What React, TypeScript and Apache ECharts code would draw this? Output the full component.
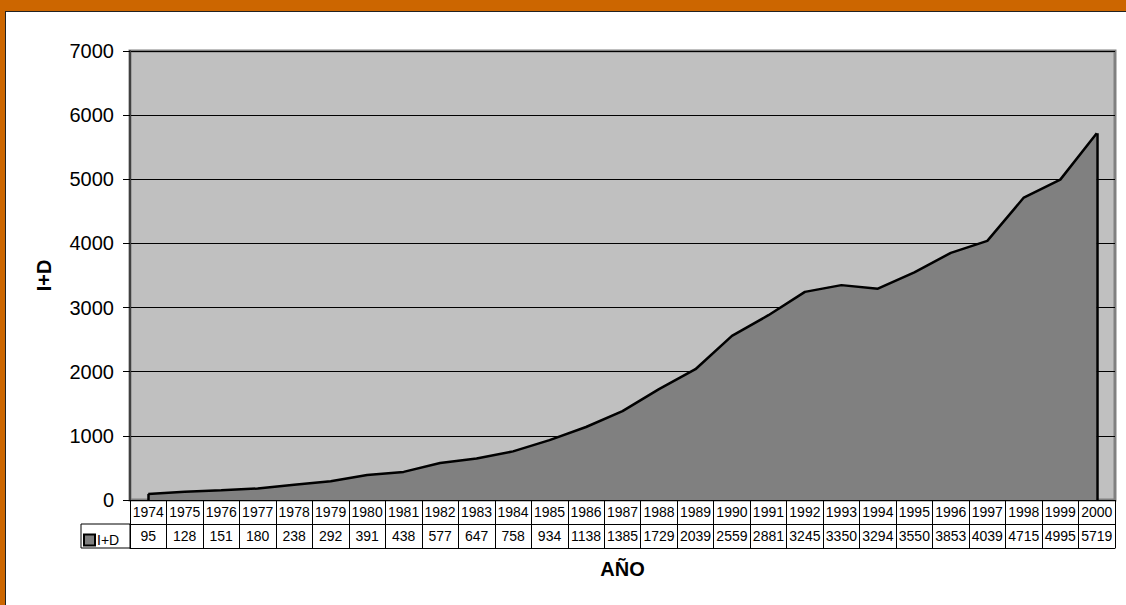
import React, { useEffect, useRef } from "react";
import * as echarts from "echarts";

const years = ["1974","1975","1976","1977","1978","1979","1980","1981","1982","1983","1984","1985","1986","1987","1988","1989","1990","1991","1992","1993","1994","1995","1996","1997","1998","1999","2000"];
const values = [95,128,151,180,238,292,391,438,577,647,758,934,1138,1385,1729,2039,2559,2881,3245,3350,3294,3550,3853,4039,4715,4995,5719];
const seriesName = "I+D";
const yTitle = "I+D";
const xTitle = "AÑO";

export default function App() {
  const ref = useRef<HTMLDivElement>(null);
  useEffect(() => {
    document.body.style.margin = "0";
    const chart = echarts.init(ref.current!, null, { renderer: "svg" });
    const font = "Arial, 'Liberation Sans', sans-serif";
    const last = years.length - 1;
    chart.setOption({
      animation: false,
      textStyle: { fontFamily: font, color: "#000" },
      grid: {
        left: 130, right: 11, top: 51, bottom: 105,
        show: true, backgroundColor: "#C0C0C0", borderColor: "#808080", borderWidth: 3,
      },
      legend: {
        left: 83, top: 533, itemWidth: 11, itemHeight: 11, itemGap: 4,
        icon: "rect",
        textStyle: { fontSize: 14, color: "#000", fontFamily: font, padding: [0, 0, 0, -3] },
        data: [{ name: seriesName, itemStyle: { color: "#808080", borderColor: "#000", borderWidth: 2 } }],
        padding: 0,
      },
      xAxis: [
        {
          type: "category", data: years, position: "bottom", boundaryGap: true,
          axisLine: { show: true, lineStyle: { color: "#000", width: 1 } },
          axisTick: { show: true, interval: 0, length: 48, lineStyle: { color: "#000", width: 1 } },
          axisLabel: { interval: 0, fontSize: 14, color: "#000", margin: 5, fontFamily: font },
          splitLine: { show: false },
          z: 5,
        },
        {
          type: "category", data: years, position: "bottom", offset: 24, boundaryGap: true,
          axisLine: { show: true, lineStyle: { color: "#000", width: 1 } },
          axisTick: { show: false },
          axisLabel: {
            interval: 0, fontSize: 14, color: "#000", margin: 5, fontFamily: font,
            formatter: (_v: string, i: number) => String(values[i]),
          },
        },
        {
          type: "category", data: years, position: "bottom", offset: 48, boundaryGap: true,
          axisLine: { show: true, lineStyle: { color: "#000", width: 1 } },
          axisTick: { show: false },
          axisLabel: { show: false },
          name: xTitle, nameLocation: "middle", nameGap: 11,
          nameTextStyle: { fontSize: 20, fontWeight: "bold", color: "#000", fontFamily: font },
        },
      ],
      yAxis: {
        type: "value", min: 0, max: 7000, interval: 1000,
        axisLine: { show: true, lineStyle: { color: "#404040", width: 2 } },
        axisTick: { show: true, length: 7, lineStyle: { color: "#000" } },
        axisLabel: { fontSize: 20, color: "#000", margin: 16, fontFamily: font, formatter: (v: number) => String(v) },
        splitLine: { show: true, lineStyle: { color: "#000", width: 1 } },
        name: yTitle, nameLocation: "middle", nameGap: 76, nameRotate: 90,
        nameTextStyle: { fontSize: 20, fontWeight: "bold", color: "#000", fontFamily: font },
      },
      graphic: [
        { type: "rect", shape: { x: 81, y: 524, width: 49, height: 24 }, style: { fill: "none", stroke: "#000", lineWidth: 1 }, z: 10 },
      ],
      series: [
        {
          name: seriesName, type: "line", data: values, xAxisIndex: 0,
          symbol: "none", lineStyle: { color: "#000", width: 2.5 },
          itemStyle: { color: "#808080" },
          areaStyle: { color: "#808080", opacity: 1 },
          markLine: {
            silent: true, symbol: "none", label: { show: false },
            lineStyle: { color: "#000", width: 2.5, type: "solid" },
            data: [
              [{ coord: [years[0], 0] }, { coord: [years[0], values[0]] }],
              [{ coord: [years[last], 0] }, { coord: [years[last], values[last]] }],
            ],
          },
        },
      ],
    });
    return () => chart.dispose();
  }, []);
  return (
    <div style={{ position: "relative", width: 1126, height: 605, background: "#CC6600", overflow: "hidden" }}>
      <div style={{ position: "absolute", left: 5, top: 11, right: 0, bottom: 0, background: "#fff", borderLeft: "1px solid #222", borderTop: "1px solid #222" }} />
      <div ref={ref} style={{ position: "absolute", left: 0, top: 0, width: 1126, height: 605 }} />
    </div>
  );
}
